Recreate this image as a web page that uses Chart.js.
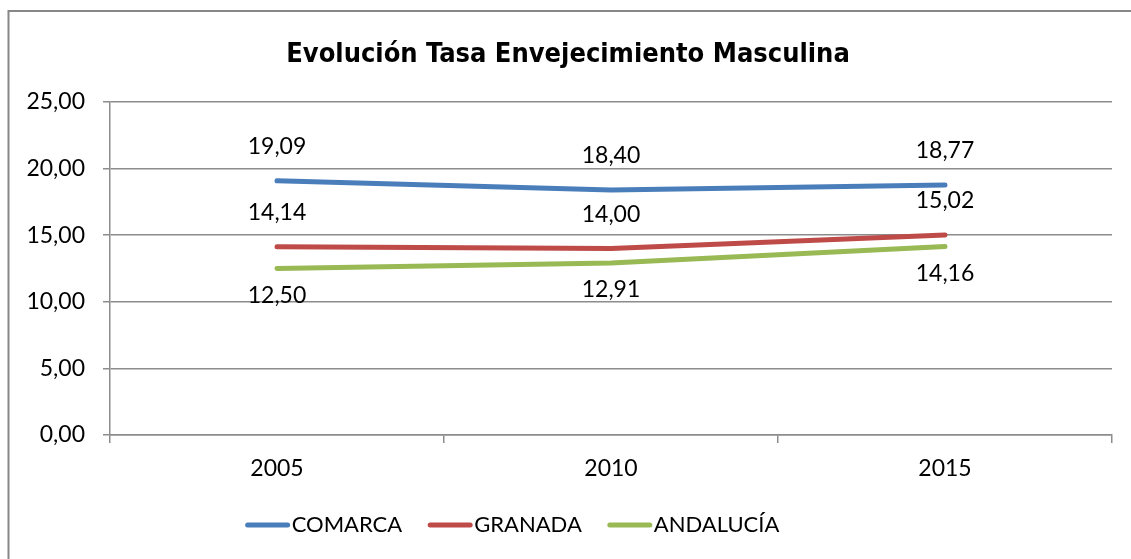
<!DOCTYPE html>
<html>
<head>
<meta charset="utf-8">
<script src="https://cdn.jsdelivr.net/npm/chart.js@4/dist/chart.umd.min.js"></script>
<style>
    html, body { margin: 0; padding: 0; background: #fff; }
    canvas { display: block; }
</style>
</head>
<body>
<canvas id="envChart" width="1131" height="559"></canvas>
<script>
// Data
const years = ['2005', '2010', '2015'];
const comarca = [19.09, 18.40, 18.77];
const granada = [14.14, 14.00, 15.02];
const andalucia = [12.50, 12.91, 14.16];
const yTicks = [0, 5, 10, 15, 20, 25];

const FONT = 'Lato, "Open Sans", sans-serif';
const TITLE_FONT = 'bold 27px "DejaVu Sans Condensed", "DejaVu Sans", sans-serif';

function fmt(v) {
    return v.toFixed(2).replace('.', ',');
}

// Outer frame + title, like the spreadsheet chart box
const framePlugin = {
    id: 'frame',
    beforeDraw(chart) {
        const ctx = chart.ctx;
        ctx.save();
        ctx.fillStyle = '#fff';
        ctx.fillRect(0, 0, chart.width, chart.height);
        ctx.strokeStyle = '#878787';
        ctx.lineWidth = 2;
        ctx.strokeRect(8.5, 11, 1300, 700);

        ctx.font = TITLE_FONT;
        ctx.fillStyle = '#000';
        ctx.textAlign = 'center';
        ctx.textBaseline = 'alphabetic';
        ctx.fillText('Evolución Tasa Envejecimiento Masculina', 568, 62);
        ctx.restore();
    }
};

// Value labels above / below the points
const labelOffsets = [-34, -34, 27];
const valueLabels = {
    id: 'valueLabels',
    afterDatasetsDraw(chart) {
        const ctx = chart.ctx;
        ctx.save();
        ctx.font = '23px ' + FONT;
        ctx.fillStyle = '#000';
        ctx.textAlign = 'center';
        ctx.textBaseline = 'middle';
        chart.data.datasets.forEach((ds, i) => {
            chart.getDatasetMeta(i).data.forEach((pt, j) => {
                ctx.fillText(fmt(ds.data[j]), pt.x, pt.y + labelOffsets[i]);
            });
        });
        ctx.restore();
    }
};

// Legend drawn underneath, line swatches + names, centred around x=513
const bottomLegend = {
    id: 'bottomLegend',
    afterDraw(chart) {
        const ctx = chart.ctx;
        ctx.save();
        ctx.font = '22px ' + FONT;
        ctx.textBaseline = 'middle';
        const items = chart.data.datasets;
        let total = 0;
        items.forEach((ds, i) => {
            total += 47 + ctx.measureText(ds.label).width + (i < items.length - 1 ? 25 : 0);
        });
        let x = 513 - total / 2;
        const y = 525;
        items.forEach(ds => {
            ctx.strokeStyle = ds.borderColor;
            ctx.lineWidth = 5;
            ctx.lineCap = 'round';
            ctx.beginPath();
            ctx.moveTo(x + 2, y);
            ctx.lineTo(x + 42, y);
            ctx.stroke();
            ctx.fillStyle = '#000';
            ctx.fillText(ds.label, x + 46, y);
            x += 47 + ctx.measureText(ds.label).width + 25;
        });
        ctx.restore();
    }
};

const ctx = document.getElementById('envChart').getContext('2d');
new Chart(ctx, {
    type: 'line',
    data: {
        labels: years,
        datasets: [
            { label: 'COMARCA', data: comarca, borderColor: '#4A7EBB' },
            { label: 'GRANADA', data: granada, borderColor: '#BE4B48' },
            { label: 'ANDALUCÍA', data: andalucia, borderColor: '#98B954' },
        ],
    },
    options: {
        responsive: false,
        animation: false,
        layout: {
            padding: { left: 0, right: 19, top: 102, bottom: 60 },
        },
        elements: {
            line: { borderWidth: 5, tension: 0, borderCapStyle: 'round', borderJoinStyle: 'round' },
            point: { radius: 0 },
        },
        scales: {
            x: {
                offset: true,
                afterFit(scale) { scale.height = 64; },
                grid: {
                    offset: true,
                    drawOnChartArea: false,
                    tickLength: 8,
                    color: '#8c8c8c',
                    lineWidth: 1.5,
                },
                border: { display: true, color: '#8c8c8c', width: 1.5 },
                ticks: {
                    color: '#000',
                    padding: 12,
                    font: { family: FONT, size: 23 },
                },
            },
            y: {
                min: 0,
                max: 25,
                afterFit(scale) { scale.width = 110; },
                afterBuildTicks(scale) {
                    scale.ticks = yTicks.map(v => ({ value: v }));
                },
                grid: {
                    tickLength: 7,
                    color: '#8c8c8c',
                    lineWidth: 1.5,
                },
                border: { display: true, color: '#8c8c8c', width: 1.5 },
                ticks: {
                    color: '#000',
                    padding: 18,
                    font: { family: FONT, size: 23 },
                    callback: v => fmt(v),
                },
            },
        },
        plugins: {
            legend: { display: false },
            tooltip: { enabled: false },
            title: { display: false },
        },
    },
    plugins: [framePlugin, valueLabels, bottomLegend],
});
</script>
</body>
</html>
